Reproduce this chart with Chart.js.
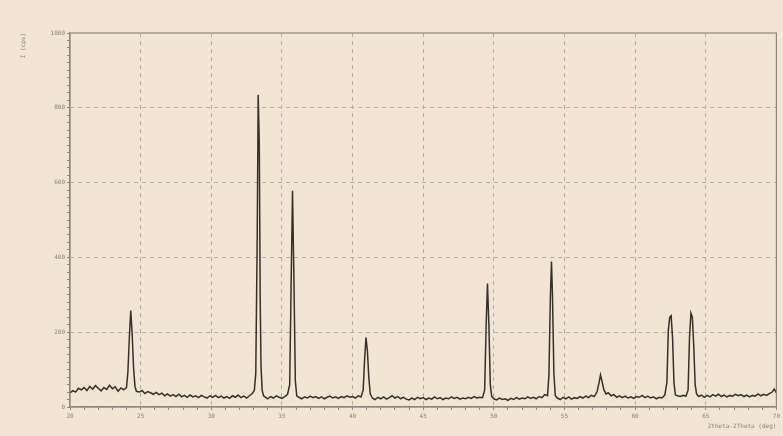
<!DOCTYPE html>
<html>
<head>
<meta charset="utf-8">
<script src="https://cdn.jsdelivr.net/npm/chart.js@4"></script>
<style>
  html, body { margin: 0; padding: 0; background: #f2e5d4; }
  #wrap { width: 783px; height: 436px; }
</style>
</head>
<body>
<div id="wrap"><canvas id="xrdChart" width="783" height="436"></canvas></div>
<script>
const xTickLabels = [20, 25, 30, 35, 40, 45, 50, 55, 60, 65, 70];
const yTickLabels = [0, 200, 400, 600, 800, 1000];

// 2theta (deg)
const twoTheta = [
  20.0, 20.2, 20.4, 20.6, 20.8, 21.0, 21.2, 21.4, 21.6, 21.8, 22.0, 22.2, 22.4, 22.6, 22.8, 23.0, 23.2, 23.4, 23.6, 23.8,
  24.0, 24.1, 24.2, 24.3, 24.4, 24.5, 24.6, 24.7,
  24.9, 25.1, 25.3, 25.5, 25.7, 25.9, 26.1, 26.3, 26.5, 26.7, 26.9, 27.1, 27.3, 27.5, 27.7, 27.9, 28.1, 28.3, 28.5, 28.7,
  28.9, 29.1, 29.3, 29.5, 29.7, 29.9, 30.1, 30.3, 30.5, 30.7, 30.9, 31.1, 31.3, 31.5, 31.7, 31.9, 32.1, 32.3, 32.5, 32.7,
  32.9, 33.05, 33.15, 33.25, 33.32, 33.4, 33.46, 33.52, 33.6, 33.7,
  33.85, 34.0, 34.2, 34.4, 34.6, 34.8, 35.0, 35.2, 35.4,
  35.55, 35.65, 35.75, 35.85, 35.95, 36.05,
  36.2, 36.4, 36.6, 36.8, 37.0, 37.2, 37.4, 37.6, 37.8, 38.0, 38.2, 38.4, 38.6, 38.8, 39.0, 39.2, 39.4, 39.6, 39.8, 40.0,
  40.2, 40.4, 40.6,
  40.75, 40.85, 40.95, 41.05, 41.15, 41.25,
  41.4, 41.6, 41.8, 42.0, 42.2, 42.4, 42.6, 42.8, 43.0, 43.2, 43.4, 43.6, 43.8, 44.0, 44.2, 44.4, 44.6, 44.8, 45.0, 45.2,
  45.4, 45.6, 45.8, 46.0, 46.2, 46.4, 46.6, 46.8, 47.0, 47.2, 47.4, 47.6, 47.8, 48.0, 48.2, 48.4, 48.6, 48.8, 49.0, 49.2,
  49.35, 49.45, 49.55, 49.65, 49.75, 49.85,
  50.0, 50.2, 50.4, 50.6, 50.8, 51.0, 51.2, 51.4, 51.6, 51.8, 52.0, 52.2, 52.4, 52.6, 52.8, 53.0, 53.2, 53.4, 53.6, 53.8,
  53.9, 54.0, 54.08, 54.15, 54.25, 54.35,
  54.5, 54.7, 54.9, 55.1, 55.3, 55.5, 55.7, 55.9, 56.1, 56.3, 56.5, 56.7, 56.9, 57.1, 57.3,
  57.45, 57.55, 57.65, 57.8, 57.95,
  58.1, 58.3, 58.5, 58.7, 58.9, 59.1, 59.3, 59.5, 59.7, 59.9, 60.1, 60.3, 60.5, 60.7, 60.9, 61.1, 61.3, 61.5, 61.7, 61.9,
  62.1, 62.25, 62.35, 62.45, 62.55, 62.65, 62.75, 62.85,
  63.0, 63.2, 63.4, 63.6, 63.75,
  63.85, 63.95, 64.05, 64.15, 64.25, 64.35,
  64.5, 64.7, 64.9, 65.1, 65.3, 65.5, 65.7, 65.9, 66.1, 66.3, 66.5, 66.7, 66.9, 67.1, 67.3, 67.5, 67.7, 67.9, 68.1, 68.3,
  68.5, 68.7, 68.9, 69.1, 69.3, 69.5, 69.7, 69.85, 70.0
];

// intensity (cps)
const counts = [
  38, 44, 40, 50, 46, 52, 44, 55, 48, 57, 50, 43, 52, 47, 58, 49, 54, 42, 51, 46,
  52, 95, 185, 258, 195, 105, 55, 42,
  40, 44, 36, 41, 38, 34, 39, 33, 37, 30, 35, 29, 33, 28, 34, 27, 31, 26, 32, 27,
  30, 25, 31, 27, 24, 30, 26, 31, 25, 29, 24, 28, 23, 30, 26, 32, 25, 29, 24, 30,
  36, 45, 90, 450, 835, 700, 300, 110, 45, 30,
  26, 22, 28, 24, 30, 26, 23, 28, 34,
  60, 320, 578, 340, 70, 30,
  26, 22, 27, 24, 29, 25, 28, 23, 27, 22, 26, 29, 24, 27, 23, 28, 25, 30, 26, 28,
  24, 30, 27,
  45, 125, 186, 150, 80, 35,
  24, 20, 26, 22, 27, 21, 25, 30, 24, 28, 22, 26, 21, 19, 24, 20, 26, 22, 25, 20,
  24, 21, 27, 22, 25, 20, 24, 22, 27, 23, 26, 21, 24, 22, 26, 23, 28, 24, 26, 25,
  45, 210, 330, 220, 60, 28,
  22, 19, 24, 20, 22, 18, 23, 20, 25, 21, 24, 22, 27, 23, 26, 22, 28, 25, 33, 30,
  85, 290, 389, 300, 90, 30,
  24, 20, 26, 22, 27, 21, 25, 23, 28, 24, 29, 25, 31, 28, 40,
  65, 86, 70, 45, 35,
  38, 30, 33, 26, 30, 25, 29, 24, 27, 23, 28, 26, 31, 25, 29, 24, 27, 22, 26, 24,
  32, 65, 205, 240, 244, 185, 65, 32,
  30, 28, 31, 29, 45,
  185, 251, 240, 165, 60, 35,
  28, 32, 26, 31, 27, 33, 29, 34, 28, 32, 27, 31, 29, 34, 30, 33, 28, 32, 27, 31,
  29, 35, 30, 34, 31, 36, 40, 48, 38
];

const frameColor = "#8f877f";
const gridColor = "#b7ada2";
const labelColor = "#8a8178";

// draws the right and top border of the plot frame
const framePlugin = {
  id: "frame",
  afterDraw(chart) {
    const { ctx, chartArea } = chart;
    ctx.save();
    ctx.strokeStyle = frameColor;
    ctx.lineWidth = 1.2;
    ctx.strokeRect(chartArea.left, chartArea.top, chartArea.right - chartArea.left, chartArea.bottom - chartArea.top);
    ctx.restore();
  }
};

const tickFont = { family: "DejaVu Sans Mono", size: 6 };

new Chart(document.getElementById("xrdChart"), {
  type: "scatter",
  data: {
    datasets: [{
      label: "XRD",
      data: twoTheta.map((t, i) => ({ x: t, y: counts[i] })),
      showLine: true,
      borderColor: "#35302b",
      borderWidth: 1.5,
      pointRadius: 0,
      tension: 0
    }]
  },
  options: {
    responsive: false,
    animation: false,
    layout: { padding: { left: 0, top: 33, right: 6, bottom: 0 } },
    plugins: {
      legend: { display: false },
      tooltip: { enabled: false }
    },
    scales: {
      x: {
        type: "linear",
        min: xTickLabels[0],
        max: xTickLabels[xTickLabels.length - 1],
        afterFit: s => { s.height = 29; },
        afterBuildTicks: s => {
          const ticks = [];
          for (let v = s.min; v <= s.max; v++) ticks.push({ value: v });
          s.ticks = ticks;
        },
        ticks: {
          autoSkip: false,
          maxRotation: 0,
          padding: 3,
          color: labelColor,
          font: tickFont,
          callback: v => xTickLabels.includes(v) ? String(v) : ""
        },
        grid: {
          color: c => (c.tick && xTickLabels.includes(c.tick.value) && c.tick.value !== 20 && c.tick.value !== 70) ? gridColor : "rgba(0,0,0,0)",
          tickColor: frameColor,
          tickLength: 3,
          lineWidth: 1
        },
        border: { color: frameColor, width: 1.2, dash: [4, 4] },
        title: {
          display: true,
          text: "2theta-2Theta (deg)",
          align: "end",
          color: labelColor,
          font: { family: "DejaVu Sans Mono", size: 6 },
          padding: { top: 0, bottom: 6 }
        }
      },
      y: {
        min: yTickLabels[0],
        max: yTickLabels[yTickLabels.length - 1],
        afterFit: s => { s.width = 70; },
        afterBuildTicks: s => {
          const ticks = [];
          for (let v = s.min; v <= s.max; v += 20) ticks.push({ value: v });
          s.ticks = ticks;
        },
        ticks: {
          autoSkip: false,
          padding: 2,
          color: labelColor,
          font: tickFont,
          callback: v => yTickLabels.includes(v) ? String(v) : ""
        },
        grid: {
          color: c => (c.tick && yTickLabels.includes(c.tick.value) && c.tick.value !== 0 && c.tick.value !== 1000) ? gridColor : "rgba(0,0,0,0)",
          tickColor: frameColor,
          tickLength: 3,
          lineWidth: 1
        },
        border: { color: frameColor, width: 1.2, dash: [4, 4] },
        title: {
          display: true,
          text: "I (cps)",
          align: "end",
          color: labelColor,
          font: { family: "DejaVu Sans Mono", size: 6 },
          padding: { top: 20, bottom: 0 }
        }
      }
    }
  },
  plugins: [framePlugin]
});
</script>
</body>
</html>
